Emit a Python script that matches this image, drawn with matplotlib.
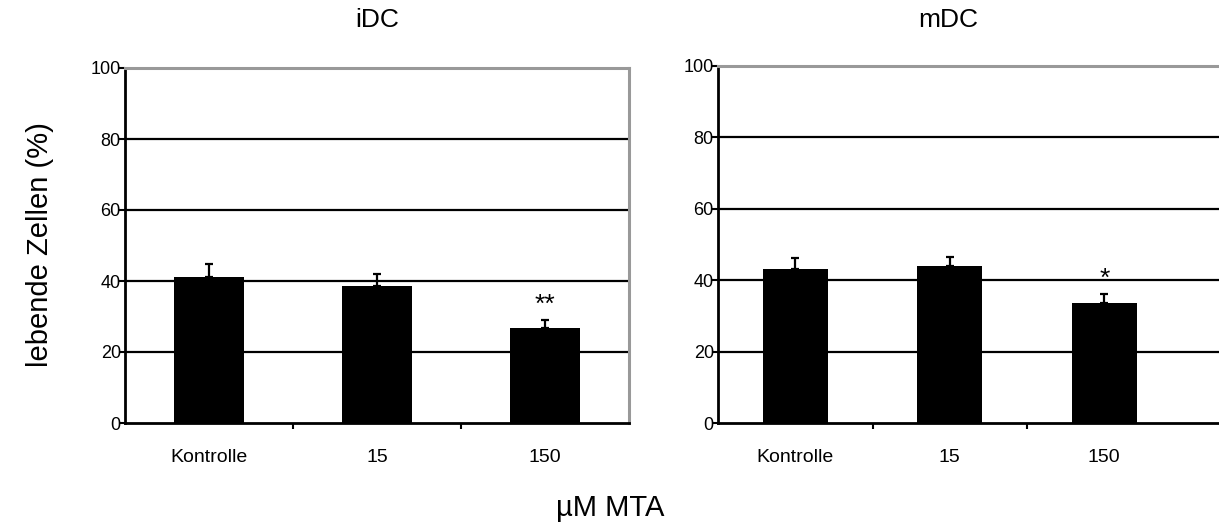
import numpy as np
import matplotlib
matplotlib.use('Agg')
import matplotlib.pyplot as plt

plt.rcParams['font.family'] = ['Liberation Sans', 'DejaVu Sans']

categories = ['Kontrolle', '15', '150']
idc_values = [41.2, 38.6, 26.9]
idc_err = [3.5, 3.3, 2.1]
mdc_values = [43.2, 44.0, 33.7]
mdc_err = [2.9, 2.5, 2.3]
idc_marks = ['', '', '**']
mdc_marks = ['', '', '*']
yticks = [0, 20, 40, 60, 80, 100]

fig = plt.figure(figsize=(12.19, 5.30), dpi=100)
W, H = 1219.0, 530.0

def panel(rect, values, err, marks, xmax, right_spine):
    ax = fig.add_axes(rect)
    x = np.arange(len(categories))
    for y in yticks[1:-1]:
        ax.axhline(y, color='black', lw=1.6, zorder=1)
    ax.bar(x, values, width=0.42, color='black', zorder=3)
    ax.errorbar(x, values, yerr=[np.zeros(len(err)), err], fmt='none',
                ecolor='black', elinewidth=1.6, capsize=2.6, capthick=1.6, zorder=2)
    for xi, v, e, m in zip(x, values, err, marks):
        if m:
            ax.text(xi, v + e + 1.0, m, ha='center', va='bottom', fontsize=19)
    ax.set_xlim(-0.5, xmax)
    ax.set_ylim(0, 100)
    ax.set_yticks(yticks)
    ax.set_yticklabels([str(t) for t in yticks], fontsize=13)
    ax.tick_params(axis='y', length=4, width=1.5, pad=-1, direction='out')
    ax.set_xticks(x)
    ax.set_xticklabels(categories, fontsize=14)
    ax.set_xticks([0.5, 1.5], minor=True)
    ax.tick_params(axis='x', which='major', length=0, pad=19)
    ax.tick_params(axis='x', which='minor', length=4, width=1.5, direction='out')
    ax.spines['left'].set_linewidth(2)
    ax.spines['bottom'].set_linewidth(2)
    ax.spines['top'].set_color('#999999')
    ax.spines['top'].set_linewidth(2.2)
    if right_spine:
        ax.spines['right'].set_color('#999999')
        ax.spines['right'].set_linewidth(2.2)
    else:
        ax.spines['right'].set_visible(False)
    return ax

# left panel: px 125..629 x 68..423
panel([125 / W, 1 - 423 / H, 504 / W, 355 / H], idc_values, idc_err, idc_marks, 2.5, True)
# right panel: px 718..1219 (cut off), 66..423
panel([718 / W, 1 - 423 / H, 501 / W, 357 / H], mdc_values, mdc_err, mdc_marks,
      -0.5 + 501 / 154.5, False)

fig.text(377 / W, 1 - 20 / H, 'iDC', ha='center', va='center', fontsize=19)
fig.text(948 / W, 1 - 20 / H, 'mDC', ha='center', va='center', fontsize=19)
fig.text(40 / W, 1 - 245 / H, 'lebende Zellen (%)', ha='center', va='center',
         rotation=90, fontsize=21)
fig.text(610 / W, 1 - 508 / H, 'µM MTA', ha='center', va='center', fontsize=21)

fig.savefig('out.png', dpi=100)
